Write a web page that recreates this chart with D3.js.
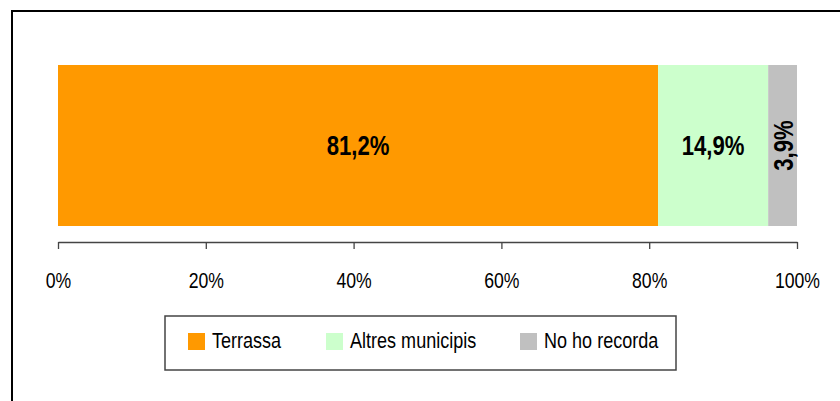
<!DOCTYPE html>
<html><head><meta charset="utf-8">
<script src="https://cdn.jsdelivr.net/npm/d3@7"></script>
<style>
html,body{margin:0;padding:0;background:#fff;}
svg{display:block;}
text{font-family:"Liberation Sans",Arial,sans-serif;}
</style></head>
<body>
<script>
const categories = ["Terrassa", "Altres municipis", "No ho recorda"];
const values = [81.2, 14.9, 3.9];
const valueLabels = ["81,2%", "14,9%", "3,9%"];
const colors = ["#FF9900", "#CCFFCC", "#C0C0C0"];
const tickValues = [0, 20, 40, 60, 80, 100];
const tickLabels = ["0%", "20%", "40%", "60%", "80%", "100%"];

const W = 840, H = 401;
const NARROW = 0.82; // simulate Arial Narrow
const svg = d3.select("body").append("svg").attr("width", W).attr("height", H);

// outer frame (top and left visible)
svg.append("path").attr("d", `M12,${H} L12,11 L${W},11`)
  .attr("fill", "none").attr("stroke", "#000").attr("stroke-width", 2);

const x = d3.scaleLinear().domain([0, 100]).range([58, 797]);
const y = d3.scaleBand().domain(["row"]).range([65, 226]).padding(0);

let cum = 0;
const segs = values.map((v, i) => { const s = {cat: categories[i], v, x0: cum, x1: cum + v, label: valueLabels[i], color: colors[i]}; cum += v; return s; });

svg.selectAll("rect.seg").data(segs).enter().append("rect")
  .attr("class", "seg")
  .attr("x", d => x(d.x0)).attr("y", y("row"))
  .attr("width", d => x(d.x1) - x(d.x0)).attr("height", y.bandwidth())
  .attr("fill", d => d.color);

const cy = y("row") + y.bandwidth() / 2;
segs.forEach((d, i) => {
  const cx = (x(d.x0) + x(d.x1)) / 2;
  const t = svg.append("text")
    .attr("font-size", 27).attr("font-weight", "bold").attr("fill", "#000")
    .attr("text-anchor", "middle").attr("dominant-baseline", "central")
    .text(d.label);
  if (i === 2) t.attr("transform", `translate(${cx + 1},${cy}) rotate(-90) scale(${NARROW},1)`);
  else t.attr("transform", `translate(${cx},${cy}) scale(${NARROW},1)`);
});

// axis
const axis = d3.axisBottom(x).tickValues(tickValues).tickFormat((d, i) => tickLabels[i]).tickSize(7).tickSizeOuter(0);
const g = svg.append("g").attr("transform", "translate(0,242)").call(axis);
g.select(".domain").attr("stroke", "#444").attr("stroke-width", 1.3);
g.selectAll(".tick line").attr("stroke", "#444").attr("stroke-width", 1.3);
g.selectAll(".tick text").attr("font-size", 21.5).attr("fill", "#000").attr("dy", 0).attr("y", 46)
  .attr("font-family", "'Liberation Sans',Arial,sans-serif")
  .attr("transform", `scale(${NARROW},1)`);

// legend
const lg = svg.append("g");
lg.append("rect").attr("x", 165).attr("y", 316).attr("width", 511).attr("height", 54)
  .attr("fill", "#fff").attr("stroke", "#444").attr("stroke-width", 1.5);
const legX = [188, 326, 520];
categories.forEach((c, i) => {
  lg.append("rect").attr("x", legX[i]).attr("y", 333).attr("width", 17).attr("height", 17).attr("fill", colors[i]);
  lg.append("text").attr("transform", `translate(${legX[i] + 24},348) scale(${NARROW},1)`)
    .attr("font-size", 22).attr("fill", "#000").text(c);
});
</script>
</body></html>
